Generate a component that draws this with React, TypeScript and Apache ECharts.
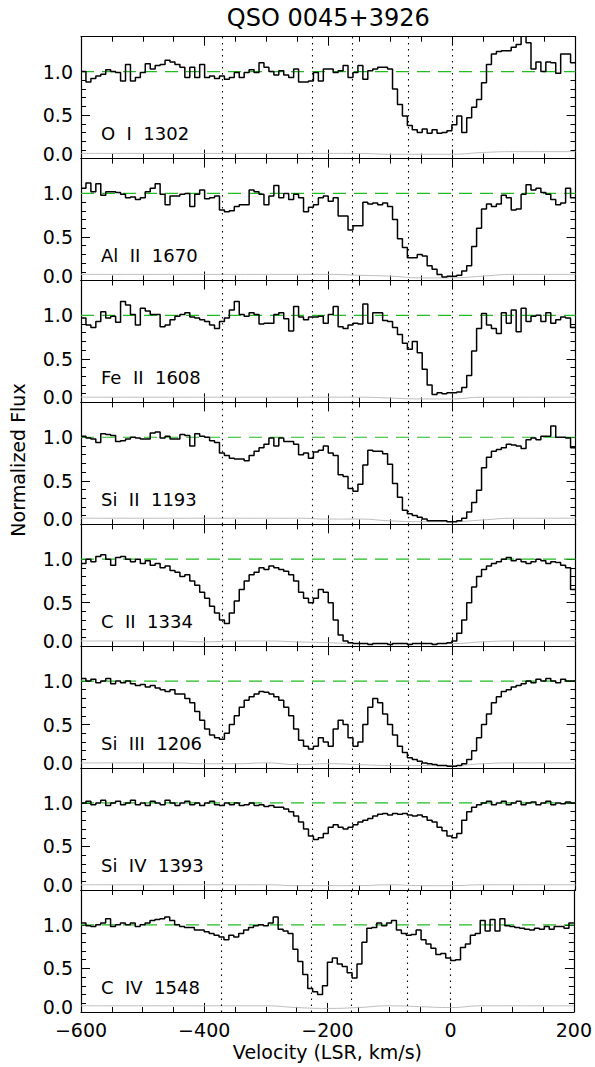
import React, { useEffect, useRef } from "react";
import * as echarts from "echarts";

// ---------- data ----------
const TITLE = "QSO 0045+3926";
const X_LABEL = "Velocity (LSR, km/s)";
const Y_LABEL = "Normalized Flux";
const V_START = -600;
const V_END = 200;
const BIN_WIDTH = 8;
const X_MAJOR = 200;
const COMPONENT_VELOCITIES = [-372, -226, -161, -70, 0];
const CONTINUUM = 1.0;
const Y_LABEL_VALUES = [0, 0.5, 1.0];
const Y_MAJOR_TICKS = [0.5, 1.0];
const Y_MINOR_TICKS = [0.1, 0.2, 0.3, 0.4, 0.6, 0.7, 0.8, 0.9];
const ERR_V = [-600, -550, -500, -450, -400, -350, -300, -250, -200, -150, -100, -50, 0, 50, 100, 150, 200];

const FLUX_OI_1302 = [
  1.00, 0.88, 0.92, 0.95, 0.97, 1.02, 1.00, 0.99, 0.89, 1.08,
  0.89, 0.93, 0.99, 1.09, 1.03, 1.07, 1.08, 1.13, 1.11, 1.08,
  1.05, 0.93, 1.05, 0.93, 1.08, 0.93, 0.95, 0.92, 0.95, 0.91,
  0.93, 0.99, 0.93, 0.99, 1.02, 0.99, 1.10, 1.05, 1.00, 0.96,
  1.01, 0.96, 0.93, 1.03, 0.88, 0.88, 0.89, 0.99, 0.89, 1.03,
  1.03, 0.99, 1.01, 1.07, 0.93, 0.99, 1.07, 0.91, 1.01, 1.03,
  1.05, 1.05, 1.03, 0.80, 0.62, 0.49, 0.38, 0.33, 0.30, 0.34,
  0.29, 0.33, 0.29, 0.30, 0.32, 0.39, 0.49, 0.30, 0.47, 0.59,
  0.68, 0.87, 1.08, 1.20, 1.23, 1.24, 1.24, 1.28, 1.31, 1.50,
  1.33, 1.03, 1.11, 1.00, 1.11, 1.10, 0.98, 1.20, 1.20, 1.10,
];
const FLUX_ALII_1670 = [
  1.06, 1.12, 1.02, 1.11, 0.98, 1.02, 1.02, 1.01, 0.99, 0.95,
  0.96, 0.93, 0.95, 1.02, 1.06, 1.11, 0.99, 0.87, 0.97, 0.97,
  0.99, 1.00, 0.85, 0.99, 1.04, 0.94, 0.95, 0.97, 0.81, 0.79,
  0.80, 0.85, 0.87, 0.87, 1.04, 1.02, 0.99, 0.87, 0.97, 1.09,
  0.95, 1.00, 0.93, 0.99, 0.95, 0.79, 0.84, 0.87, 0.95, 0.97,
  0.91, 0.95, 0.74, 0.74, 0.58, 0.63, 0.63, 0.90, 0.88, 0.89,
  0.87, 0.89, 0.85, 0.70, 0.48, 0.38, 0.26, 0.26, 0.30, 0.28,
  0.17, 0.13, 0.07, 0.04, 0.05, 0.05, 0.06, 0.11, 0.17, 0.39,
  0.60, 0.82, 0.88, 0.85, 0.88, 0.98, 0.95, 0.81, 0.82, 0.99,
  1.10, 1.04, 1.06, 1.01, 0.99, 0.93, 0.87, 0.89, 1.06, 0.95,
];
const FLUX_FEII_1608 = [
  0.97, 0.89, 0.86, 0.93, 1.04, 0.97, 0.99, 0.92, 1.16, 1.12,
  1.01, 0.89, 1.08, 1.05, 1.01, 1.01, 0.87, 0.89, 0.95, 0.99,
  1.01, 1.03, 0.98, 0.97, 0.95, 0.93, 0.89, 0.85, 0.93, 0.97,
  1.06, 1.16, 1.01, 0.99, 1.03, 1.01, 0.90, 0.91, 0.91, 1.01,
  1.03, 0.96, 0.82, 1.10, 0.98, 0.95, 0.98, 0.98, 0.99, 0.91,
  1.01, 1.10, 0.87, 0.85, 0.89, 0.91, 0.90, 1.13, 0.91, 1.03,
  1.03, 0.94, 0.93, 0.86, 0.78, 0.68, 0.61, 0.70, 0.57, 0.38,
  0.20, 0.09, 0.11, 0.10, 0.11, 0.11, 0.12, 0.17, 0.31, 0.59,
  0.85, 1.02, 0.89, 0.85, 0.79, 1.03, 0.91, 1.06, 0.81, 1.08,
  0.93, 0.99, 1.00, 0.93, 1.03, 0.91, 0.95, 0.98, 0.97, 0.86,
];
const FLUX_SIII_1193 = [
  1.01, 0.99, 0.98, 0.94, 1.04, 1.03, 1.02, 0.95, 0.96, 0.98,
  1.00, 0.99, 0.98, 0.98, 1.05, 1.06, 0.99, 1.01, 0.98, 0.98,
  1.03, 1.02, 0.90, 1.04, 1.01, 1.00, 0.96, 0.94, 0.82, 0.79,
  0.76, 0.75, 0.75, 0.73, 0.79, 0.84, 0.88, 0.92, 0.99, 0.90,
  0.99, 0.95, 0.95, 0.92, 0.80, 0.82, 0.76, 0.83, 0.85, 0.90,
  0.82, 0.79, 0.57, 0.55, 0.41, 0.38, 0.46, 0.68, 0.85, 0.84,
  0.84, 0.81, 0.69, 0.47, 0.31, 0.16, 0.12, 0.10, 0.08, 0.06,
  0.04, 0.04, 0.04, 0.04, 0.03, 0.03, 0.04, 0.07, 0.14, 0.25,
  0.39, 0.65, 0.77, 0.84, 0.86, 0.88, 0.92, 0.91, 0.90, 0.87,
  0.97, 0.99, 0.97, 1.01, 1.01, 1.13, 1.00, 1.00, 0.99, 0.88,
];
const FLUX_CII_1334 = [
  0.95, 1.00, 0.97, 1.03, 1.05, 1.00, 0.93, 1.02, 1.03, 1.00,
  0.97, 1.00, 0.95, 0.98, 0.93, 0.95, 0.90, 0.92, 0.87, 0.85,
  0.80, 0.82, 0.75, 0.70, 0.62, 0.55, 0.46, 0.38, 0.30, 0.26,
  0.38, 0.52, 0.65, 0.75, 0.82, 0.85, 0.90, 0.88, 0.92, 0.90,
  0.88, 0.86, 0.82, 0.75, 0.62, 0.55, 0.50, 0.55, 0.65, 0.62,
  0.50, 0.30, 0.13, 0.06, 0.04, 0.03, 0.03, 0.03, 0.02, 0.03,
  0.03, 0.03, 0.02, 0.03, 0.03, 0.03, 0.02, 0.03, 0.03, 0.03,
  0.03, 0.02, 0.03, 0.03, 0.04, 0.06, 0.15, 0.30, 0.50, 0.68,
  0.80, 0.88, 0.92, 0.95, 0.97, 1.00, 1.02, 0.98, 1.00, 0.97,
  0.95, 0.97, 1.00, 0.98, 0.95, 0.97, 0.96, 0.93, 0.90, 0.65,
];
const FLUX_SIIII_1206 = [
  1.03, 1.00, 1.02, 0.98, 1.00, 1.03, 0.97, 1.00, 0.98, 1.00,
  0.97, 0.95, 0.96, 0.93, 0.95, 0.92, 0.90, 0.88, 0.90, 0.85,
  0.85, 0.80, 0.75, 0.65, 0.55, 0.45, 0.38, 0.35, 0.33, 0.40,
  0.50, 0.60, 0.70, 0.78, 0.82, 0.85, 0.88, 0.87, 0.85, 0.82,
  0.78, 0.70, 0.60, 0.45, 0.32, 0.25, 0.22, 0.25, 0.35, 0.30,
  0.25, 0.45, 0.55, 0.50, 0.35, 0.25, 0.30, 0.50, 0.70, 0.80,
  0.75, 0.62, 0.50, 0.38, 0.25, 0.18, 0.12, 0.10, 0.08, 0.06,
  0.05, 0.04, 0.03, 0.03, 0.02, 0.02, 0.03, 0.05, 0.10, 0.20,
  0.35, 0.50, 0.62, 0.75, 0.82, 0.88, 0.90, 0.93, 0.95, 0.97,
  1.00, 0.98, 1.02, 1.00, 1.03, 1.00, 0.98, 1.02, 1.00, 1.00,
];
const FLUX_SIIV_1393 = [
  1.00, 1.02, 0.98, 1.00, 1.03, 0.97, 1.00, 1.02, 0.98, 1.00,
  1.03, 0.98, 1.00, 0.97, 1.02, 1.00, 0.98, 1.03, 1.00, 0.97,
  1.00, 1.02, 0.98, 1.00, 0.97, 1.00, 1.02, 0.98, 0.97, 1.00,
  0.98, 1.00, 0.97, 0.98, 1.00, 0.97, 0.98, 0.96, 0.97, 0.95,
  0.95, 0.93, 0.90, 0.85, 0.78, 0.70, 0.62, 0.58, 0.60, 0.65,
  0.72, 0.75, 0.72, 0.70, 0.72, 0.75, 0.78, 0.80, 0.82, 0.85,
  0.87, 0.88, 0.86, 0.88, 0.87, 0.88, 0.86, 0.85, 0.86, 0.84,
  0.80, 0.78, 0.72, 0.68, 0.62, 0.60, 0.65, 0.80, 0.90, 0.95,
  0.98, 1.00, 1.02, 0.98, 1.00, 1.02, 0.98, 1.00, 1.02, 0.98,
  1.00, 1.01, 0.98, 1.00, 1.02, 0.98, 1.00, 0.99, 1.01, 1.00,
];
const FLUX_CIV_1548 = [
  1.02, 0.99, 0.98, 1.00, 1.02, 1.07, 0.98, 1.00, 1.02, 1.00,
  1.02, 0.98, 1.00, 1.02, 1.05, 1.06, 1.07, 1.09, 1.05, 1.00,
  0.98, 0.97, 0.97, 0.94, 0.94, 0.92, 0.90, 0.88, 0.86, 0.83,
  0.88, 0.86, 0.90, 0.94, 0.97, 0.99, 1.00, 0.99, 1.02, 1.09,
  0.95, 0.93, 0.90, 0.72, 0.58, 0.43, 0.27, 0.23, 0.20, 0.30,
  0.57, 0.62, 0.55, 0.52, 0.45, 0.39, 0.55, 0.80, 0.96, 0.97,
  1.02, 0.99, 1.02, 1.05, 0.94, 0.90, 0.88, 0.89, 0.94, 0.83,
  0.78, 0.73, 0.66, 0.67, 0.62, 0.59, 0.60, 0.74, 0.78, 0.88,
  0.90, 1.05, 0.93, 1.06, 0.93, 1.07, 0.99, 0.98, 0.97, 0.96,
  0.95, 0.94, 0.96, 0.95, 0.98, 0.95, 0.98, 0.98, 0.96, 1.02,
];

const ERR_OI_1302 = [0.06, 0.06, 0.06, 0.06, 0.06, 0.06, 0.06, 0.06, 0.06, 0.06, 0.05, 0.05, 0.05, 0.07, 0.08, 0.08, 0.08];
const ERR_ALII_1670 = [0.07, 0.07, 0.07, 0.07, 0.07, 0.07, 0.07, 0.07, 0.07, 0.06, 0.05, 0.03, 0.03, 0.05, 0.07, 0.07, 0.07];
const ERR_FEII_1608 = [0.06, 0.06, 0.06, 0.06, 0.06, 0.06, 0.06, 0.06, 0.06, 0.06, 0.05, 0.04, 0.04, 0.06, 0.06, 0.06, 0.06];
const ERR_SIII_1193 = [0.07, 0.07, 0.07, 0.07, 0.07, 0.07, 0.07, 0.07, 0.06, 0.06, 0.04, 0.03, 0.03, 0.05, 0.07, 0.07, 0.07];
const ERR_CII_1334 = [0.06, 0.06, 0.06, 0.06, 0.05, 0.06, 0.06, 0.05, 0.04, 0.03, 0.03, 0.03, 0.03, 0.05, 0.06, 0.06, 0.06];
const ERR_SIIII_1206 = [0.06, 0.06, 0.06, 0.06, 0.05, 0.05, 0.06, 0.04, 0.05, 0.04, 0.03, 0.03, 0.03, 0.05, 0.06, 0.06, 0.06];
const ERR_SIIV_1393 = [0.06, 0.06, 0.06, 0.06, 0.06, 0.06, 0.06, 0.05, 0.05, 0.05, 0.06, 0.05, 0.05, 0.06, 0.06, 0.06, 0.06];
const ERR_CIV_1548 = [0.07, 0.07, 0.07, 0.07, 0.07, 0.07, 0.07, 0.05, 0.04, 0.05, 0.07, 0.06, 0.05, 0.07, 0.07, 0.07, 0.07];

const ION_LABELS = ["O  I  1302", "Al  II  1670", "Fe  II  1608", "Si  II  1193", "C  II  1334", "Si  III  1206", "Si  IV  1393", "C  IV  1548"];
const FLUX_SERIES = [FLUX_OI_1302, FLUX_ALII_1670, FLUX_FEII_1608, FLUX_SIII_1193, FLUX_CII_1334, FLUX_SIIII_1206, FLUX_SIIV_1393, FLUX_CIV_1548];
const ERR_SERIES = [ERR_OI_1302, ERR_ALII_1670, ERR_FEII_1608, ERR_SIII_1193, ERR_CII_1334, ERR_SIIII_1206, ERR_SIIV_1393, ERR_CIV_1548];

// ---------- layout ----------
const W = 595;
const H = 1067;
const GRID_LEFT = 81;
const GRID_WIDTH = 494.5;
const GRID_TOP = 36.7;
const PANEL_H = 121.9;
const FONT = "DejaVu Sans";
const GREEN = "#22bb22";

function fmtVel(v: number) {
  return v < 0 ? "\u2212" + Math.abs(v) : String(v);
}

function buildOption() {
  const n = FLUX_SERIES.length;
  const grid: any[] = [];
  const xAxis: any[] = [];
  const yAxis: any[] = [];
  const series: any[] = [];
  const graphic: any[] = [];
  const black = "#000";

  for (let g = 0; g < n; g++) {
    const top = GRID_TOP + g * PANEL_H;
    grid.push({ left: GRID_LEFT, top, width: GRID_WIDTH, height: PANEL_H, containLabel: false });
    const isLast = g === n - 1;
    const xBase = {
      type: "value",
      gridIndex: g,
      min: V_START,
      max: V_END,
      interval: X_MAJOR,
      splitLine: { show: false },
      axisLine: { show: true, onZero: false, lineStyle: { color: black, width: 1.2 } },
      axisTick: { show: true, inside: true, length: 9, lineStyle: { color: black, width: 1 } },
      minorTick: { show: true, splitNumber: 4, length: 5, lineStyle: { color: black, width: 1 } },
    };
    xAxis.push({
      ...xBase,
      position: "bottom",
      axisLabel: {
        show: isLast,
        formatter: fmtVel,
        color: black,
        fontFamily: FONT,
        fontSize: 19,
        margin: 9,
      },
      name: isLast ? X_LABEL : "",
      nameLocation: "middle",
      nameGap: 31,
      nameTextStyle: { color: black, fontFamily: FONT, fontSize: 19 },
    });
    xAxis.push({ ...xBase, position: "top", axisLabel: { show: false } });

    const yBase = {
      type: "value",
      gridIndex: g,
      min: 0,
      max: 1.4,
      splitLine: { show: false },
    };
    yAxis.push({
      ...yBase,
      position: "left",
      axisLine: { show: true, onZero: false, lineStyle: { color: black, width: 1.2 } },
      axisTick: { show: true, inside: true, length: 9, customValues: Y_MAJOR_TICKS, lineStyle: { color: black } },
      axisLabel: {
        show: true,
        customValues: Y_LABEL_VALUES,
        formatter: (v: number) => (v === 0 ? "{z|" + v.toFixed(1) + "}" : "{n|" + v.toFixed(1) + "}"),
        margin: 8,
        rich: {
          n: { fontFamily: FONT, fontSize: 19, color: black },
          z: { fontFamily: FONT, fontSize: 19, color: black, padding: [0, 0, 10, 0] },
        },
      },
    });
    yAxis.push({
      ...yBase,
      position: "left",
      axisLine: { show: false, onZero: false },
      axisTick: { show: true, inside: true, length: 5, customValues: Y_MINOR_TICKS, lineStyle: { color: black } },
      axisLabel: { show: false },
    });
    yAxis.push({
      ...yBase,
      position: "right",
      axisLine: { show: true, onZero: false, lineStyle: { color: black, width: 1.2 } },
      axisTick: { show: true, inside: true, length: 9, customValues: Y_MAJOR_TICKS, lineStyle: { color: black } },
      axisLabel: { show: false },
    });
    yAxis.push({
      ...yBase,
      position: "right",
      axisLine: { show: false, onZero: false },
      axisTick: { show: true, inside: true, length: 5, customValues: Y_MINOR_TICKS, lineStyle: { color: black } },
      axisLabel: { show: false },
    });

    const flux = FLUX_SERIES[g];
    const fluxData: number[][] = flux.map((f, i) => [V_START + i * BIN_WIDTH, f]);
    fluxData.push([V_END, flux[flux.length - 1]]);
    const errData = ERR_SERIES[g].map((e, i) => [ERR_V[i], e]);

    // error spectrum
    series.push({
      type: "line",
      xAxisIndex: 2 * g,
      yAxisIndex: 4 * g,
      data: errData,
      smooth: true,
      symbol: "none",
      lineStyle: { color: "#bdbdbd", width: 1 },
      itemStyle: { color: "#bdbdbd" },
      clip: true,
      silent: true,
      z: 2,
    });
    // continuum level (dashed green)
    series.push({
      type: "line",
      xAxisIndex: 2 * g,
      yAxisIndex: 4 * g,
      data: [
        [V_START, CONTINUUM],
        [V_END, CONTINUUM],
      ],
      symbol: "none",
      lineStyle: { color: GREEN, type: [13, 8], width: 1.2 },
      itemStyle: { color: GREEN },
      clip: true,
      silent: true,
      z: 3,
    });
    // flux + component velocities
    series.push({
      type: "line",
      xAxisIndex: 2 * g,
      yAxisIndex: 4 * g,
      data: fluxData,
      step: "end",
      symbol: "none",
      lineStyle: { color: black, width: 1.5 },
      itemStyle: { color: black },
      clip: true,
      silent: true,
      z: 4,
      markLine: {
        silent: true,
        symbol: ["none", "none"],
        label: { show: false },
        lineStyle: { color: black, type: [1.5, 4.5], width: 1.1, opacity: 1 },
        emphasis: { disabled: true },
        data: COMPONENT_VELOCITIES.map((v) => ({ xAxis: v })),
      },
    });

    graphic.push({
      type: "text",
      x: 101,
      y: top + 97,
      style: {
        text: ION_LABELS[g],
        fontFamily: FONT,
        fontSize: 18,
        fill: black,
        verticalAlign: "middle",
      },
    });
  }

  graphic.push({
    type: "text",
    x: GRID_LEFT + GRID_WIDTH / 2,
    y: 18,
    style: {
      text: TITLE,
      fontFamily: FONT,
      fontSize: 24,
      fill: black,
      align: "center",
      verticalAlign: "middle",
    },
  });
  graphic.push({
    type: "text",
    x: 18,
    y: 460,
    rotation: Math.PI / 2,
    style: {
      text: Y_LABEL,
      fontFamily: FONT,
      fontSize: 19,
      fill: black,
      align: "center",
      verticalAlign: "middle",
    },
  });

  return {
    animation: false,
    backgroundColor: "#fff",
    grid,
    xAxis,
    yAxis,
    series,
    graphic,
  };
}

export default function App() {
  const ref = useRef<HTMLDivElement>(null);
  useEffect(() => {
    if (!ref.current) return;
    const chart = echarts.init(ref.current, null, { renderer: "svg", width: W, height: H });
    chart.setOption(buildOption() as any);
    return () => chart.dispose();
  }, []);
  return (
    <div
      ref={ref}
      style={{ position: "absolute", left: 0, top: 0, width: W, height: H, background: "#fff" }}
    />
  );
}
